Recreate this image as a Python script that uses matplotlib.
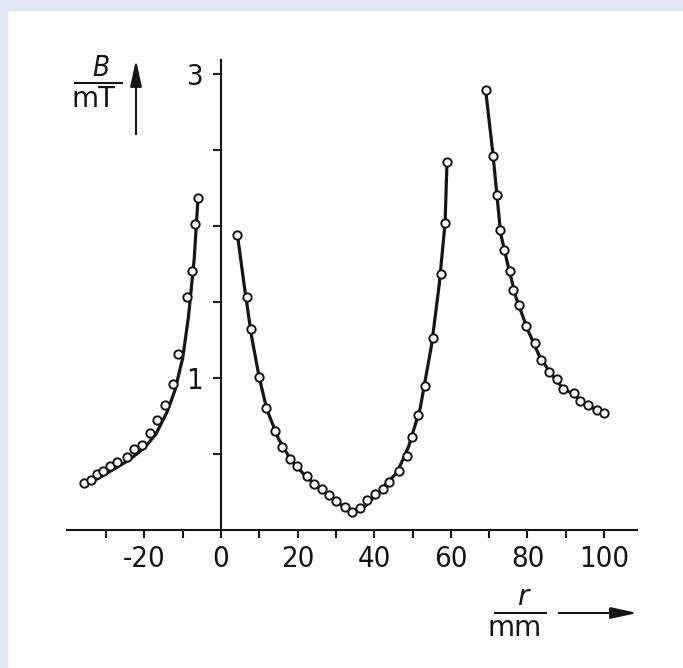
import matplotlib
matplotlib.use("Agg")
import matplotlib.pyplot as plt
from matplotlib.patches import Rectangle

# measured points (open circles)
r_left = [-35.8, -34.0, -32.3, -30.7, -29.0, -27.1, -24.6, -22.7, -20.7, -18.5,
          -16.6, -14.6, -12.45, -11.15, -8.96, -7.49, -6.79, -6.08]
B_left = [0.31, 0.33, 0.37, 0.39, 0.42, 0.45, 0.48, 0.53, 0.56, 0.64,
          0.72, 0.82, 0.96, 1.16, 1.53, 1.70, 2.01, 2.18]

r_mid = [4.26, 6.87, 7.75, 9.92, 11.75, 14.1, 15.85, 18.0, 19.9, 22.4, 24.3,
         26.3, 28.3, 30.0, 32.4, 34.1, 36.3, 38.0, 40.2, 42.4, 43.9, 46.5,
         48.5, 49.8, 51.5, 53.3, 55.3, 57.4, 58.5, 58.9]
B_mid = [1.94, 1.53, 1.32, 1.005, 0.80, 0.65, 0.545, 0.47, 0.42, 0.354, 0.30,
         0.27, 0.23, 0.19, 0.15, 0.116, 0.142, 0.197, 0.236, 0.27, 0.317, 0.39,
         0.485, 0.61, 0.754, 0.95, 1.26, 1.68, 2.02, 2.42]

r_right = [69.1, 71.1, 72.0, 72.8, 73.9, 75.5, 76.3, 77.9, 79.6, 82.0, 83.5,
           85.7, 87.7, 89.4, 92.2, 93.7, 95.9, 98.1, 100.1]
B_right = [2.89, 2.46, 2.20, 1.97, 1.84, 1.70, 1.575, 1.48, 1.34, 1.23, 1.12,
           1.04, 0.99, 0.93, 0.90, 0.85, 0.82, 0.79, 0.77]

# drawn curves
cr_left = [-36, -32, -28, -24, -20, -17, -14, -12, -10, -8.5, -7, -6]
cB_left = [0.29, 0.34, 0.40, 0.46, 0.54, 0.63, 0.78, 0.92, 1.13, 1.40, 1.78, 2.18]

cr_mid = [4.3, 6, 8, 10, 12, 15, 18, 22, 26, 30, 33, 35, 37, 40, 43, 46, 49,
          52, 55, 57, 58.5, 59]
cB_mid = [1.94, 1.62, 1.27, 1.0, 0.79, 0.60, 0.47, 0.355, 0.27, 0.19, 0.135,
          0.115, 0.14, 0.22, 0.30, 0.38, 0.55, 0.80, 1.22, 1.62, 2.02, 2.42]

cr_right = [69.1, 71, 73, 75, 77, 80, 83, 86, 89, 92, 95, 98, 100]
cB_right = [2.89, 2.47, 1.95, 1.73, 1.53, 1.32, 1.15, 1.03, 0.94, 0.89, 0.83, 0.79, 0.77]

xticks = [-20, 0, 20, 40, 60, 80, 100]
xminor = [-30, -10, 10, 30, 50, 70, 90]
yticks = [1, 3]
yminor = [0.5, 1.5, 2, 2.5]

W, H = 683, 668
ink = '#151515'
fam = ['DejaVu Sans']

fig = plt.figure(figsize=(W / 100, H / 100), dpi=100)
fig.patch.set_facecolor('white')
# light frame at top and left
fig.patches.append(Rectangle((0, 1 - 10 / H), 1, 10 / H, transform=fig.transFigure,
                             color='#dfe5f1', zorder=0))
fig.patches.append(Rectangle((0, 0), 7 / W, 1, transform=fig.transFigure,
                             color='#dfe5f1', zorder=0))

ax = fig.add_axes([67 / W, 138 / H, 570 / W, 470 / H])
ax.set_facecolor('none')
ax.set_xlim(-40.2, 108.6)
ax.set_ylim(0, 3.09)

for cr, cB in [(cr_left, cB_left), (cr_mid, cB_mid), (cr_right, cB_right)]:
    ax.plot(cr, cB, color=ink, lw=2.3, solid_capstyle='round', zorder=2)
for r, B in [(r_left, B_left), (r_mid, B_mid), (r_right, B_right)]:
    ax.plot(r, B, 'o', ms=6, mfc='white', mec=ink, mew=1.4, zorder=3, clip_on=False)

ax.spines['top'].set_visible(False)
ax.spines['right'].set_visible(False)
ax.spines['left'].set_position(('data', 0))
for s in ('left', 'bottom'):
    ax.spines[s].set_linewidth(1.5)
    ax.spines[s].set_color(ink)

ax.set_xticks(xticks)
ax.set_xticklabels([str(t) for t in xticks])
ax.set_xticks(xminor, minor=True)
ax.set_yticks(yticks)
ax.set_yticklabels([str(t) for t in yticks])
ax.set_yticks(yminor, minor=True)
ax.tick_params(which='both', direction='out', length=6, width=1.5, color=ink)
ax.tick_params(axis='x', which='major', pad=5)
ax.tick_params(axis='y', which='major', pad=7)
for lab in ax.get_xticklabels() + ax.get_yticklabels():
    lab.set_family(fam)
    lab.set_stretch('condensed')
    lab.set_fontsize(21)
    lab.set_color(ink)


def fx(px):
    return px / W


def fy(py):
    return 1 - py / H


# y label: B / mT with arrow
fig.text(fx(101), fy(68), 'B', fontsize=20, style='italic', family=fam,
         stretch='condensed', ha='center', va='center', color=ink)
fig.add_artist(plt.Line2D([fx(75), fx(122)], [fy(83), fy(83)], color=ink, lw=1.5))
fig.text(fx(94), fy(99), 'mT', fontsize=20, family=fam,
         ha='center', va='center', color=ink)
ax.annotate('', xy=(136, H - 57), xytext=(136, H - 137),
            xycoords='figure pixels', textcoords='figure pixels',
            arrowprops=dict(arrowstyle='-|>,head_length=1.6,head_width=0.35',
                            color=ink, lw=1.5))

# x label: r / mm with arrow
fig.text(fx(523), fy(597), 'r', fontsize=20, style='italic', family=fam,
         ha='center', va='center', color=ink)
fig.add_artist(plt.Line2D([fx(495), fx(546)], [fy(613), fy(613)], color=ink, lw=1.5))
fig.text(fx(515), fy(628), 'mm', fontsize=20, family=fam,
         ha='center', va='center', color=ink)
ax.annotate('', xy=(640, H - 613), xytext=(556, H - 613),
            xycoords='figure pixels', textcoords='figure pixels',
            arrowprops=dict(arrowstyle='-|>,head_length=1.6,head_width=0.35',
                            color=ink, lw=1.5))

fig.savefig('out.png', dpi=100)
